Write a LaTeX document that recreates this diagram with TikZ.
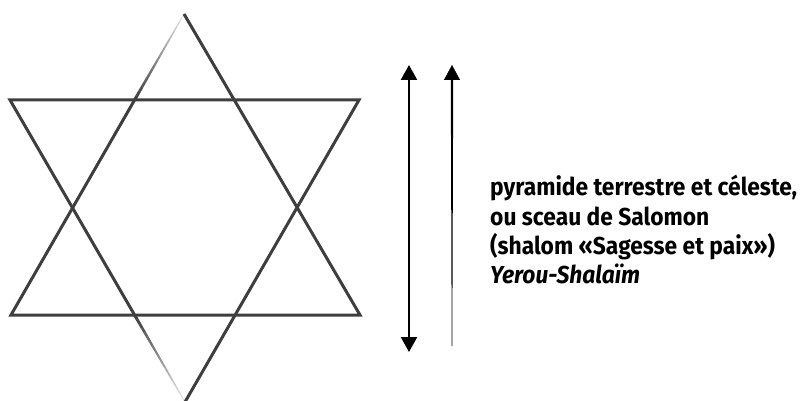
\documentclass[tikz,border=0pt]{standalone}
\usepackage{fontspec}
\setmainfont[FakeStretch=0.93]{Fira Sans}
\usetikzlibrary{arrows.meta,calc}
\definecolor{starcol}{RGB}{62,62,62}
\begin{document}
\begin{tikzpicture}[x=1pt,y=-1pt,
  starline/.style={draw=starcol,line width=3pt,line join=miter},
  txt/.style={anchor=base west,inner sep=0pt,font=\fontsize{24.5}{28}\selectfont\bfseries},
  >={Triangle[width=16pt,length=15pt]}]
\useasboundingbox (0,0) rectangle (806,401);
% upward triangle
\coordinate (U) at (184,14);
\coordinate (UL) at (11,315);
\coordinate (UR) at (360,315);
% downward triangle
\coordinate (D) at (185,402);
\coordinate (DL) at (10,100);
\coordinate (DR) at (359,100);
\coordinate (X1) at ($(UL)!0.714!(U)$);
\coordinate (X2) at ($(DL)!0.712!(D)$);
\draw[starline] (U) -- (UR) -- (UL) -- (X1);
\draw[starline] (X2) -- (DL) -- (DR) -- (D);
\foreach \i in {0,...,19}{
  \pgfmathsetmacro{\a}{1-0.046*\i}
  \pgfmathsetmacro{\w}{3-0.1*\i}
  \pgfmathsetmacro{\s}{\i/20}
  \pgfmathsetmacro{\e}{(\i+1)/20}
  \draw[draw=starcol,line width=\w pt,draw opacity=\a] ($(X1)!\s!(U)$) -- ($(X1)!\e!(U)$);
  \draw[draw=starcol,line width=\w pt,draw opacity=\a] ($(X2)!\s!(D)$) -- ($(X2)!\e!(D)$);
}
% arrows
\coordinate (a1t) at (409,65);
\coordinate (a1b) at (409,352);
\coordinate (a2t) at (452,65);
\coordinate (a2b) at (452,346);
\draw[line width=2.4pt,<->] (a1t) -- (a1b);
\fill ($(a2b)+(-0.3,0)$) -- ($(a2t)+(-1.2,12)$) -- ($(a2t)+(1.2,12)$) -- ($(a2b)+(0.3,0)$) -- cycle;
\draw[line width=0.4pt,->] ($(a2t)+(0,16)$) -- (a2t);
% text
\node[txt] (t1) at (490,196) {pyramide terrestre et céleste,};
\node[txt] (t2) at (490,225) {ou sceau de Salomon};
\node[txt] (t3) at (490,254) {(shalom «Sagesse et paix»)};
\node[txt] (t4) at (490,283) {\itshape Yerou-Shalaïm};
\end{tikzpicture}
\end{document}
